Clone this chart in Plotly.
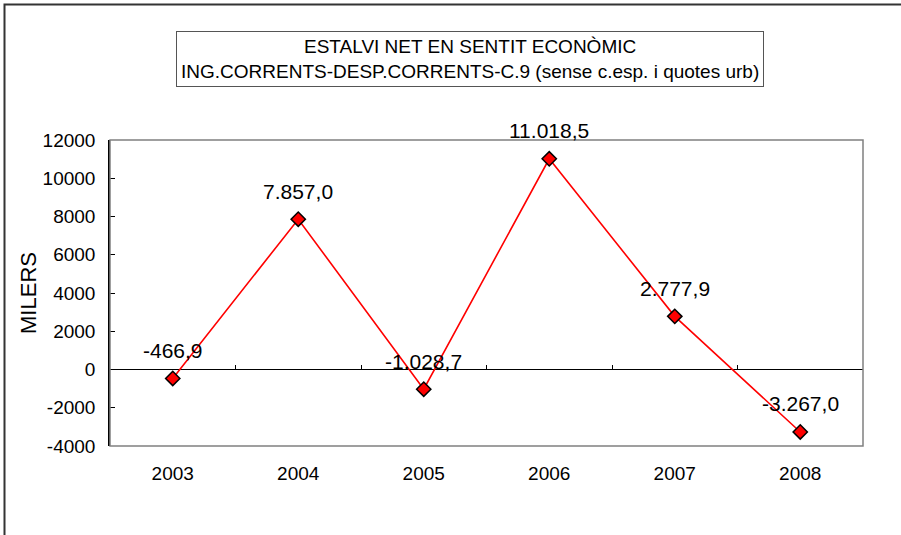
import plotly.graph_objects as go

years = ["2003", "2004", "2005", "2006", "2007", "2008"]
estalvi = [-466.9, 7857.0, -1028.7, 11018.5, 2777.9, -3267.0]
y_ticks = [-4000, -2000, 0, 2000, 4000, 6000, 8000, 10000, 12000]

title_lines = ["ESTALVI NET EN SENTIT ECONÒMIC",
               "ING.CORRENTS-DESP.CORRENTS-C.9 (sense c.esp. i quotes urb)"]


def cat_fmt(v):
    # 7857.0 -> 7.857,0
    s = f"{v:,.1f}"
    return s.replace(",", "X").replace(".", ",").replace("X", ".")


W, H = 901, 535
ml, mr, mt, mb = 110, 38, 140, 89
pw, ph = W - ml - mr, H - mt - mb

fig = go.Figure()
fig.add_trace(go.Scatter(
    x=years, y=estalvi, mode="lines+markers",
    line=dict(color="#ff0000", width=1.6),
    marker=dict(symbol="diamond", size=11, color="#ff0000",
                line=dict(color="black", width=1.5)),
    hoverinfo="x+y", showlegend=False,
))
# dummy trace so the tick-only axis on the zero line is drawn
fig.add_trace(go.Scatter(x=[], y=[], xaxis="x2", showlegend=False))

for i, v in enumerate(estalvi):
    fig.add_annotation(xref="x", yref="y", x=i, y=v, text=cat_fmt(v),
                       showarrow=False, yshift=28,
                       font=dict(size=21, color="black"))

# title box
fig.add_annotation(
    xref="paper", yref="paper", x=(470 - ml) / pw, y=(H - mb - 59) / ph,
    xanchor="center", yanchor="middle",
    text="<br>".join(title_lines), showarrow=False,
    font=dict(size=19, color="black"),
    bordercolor="#555555", borderwidth=1, borderpad=4, bgcolor="white",
)

# outer frame of the chart
fig.add_shape(type="rect", xref="paper", yref="paper",
              x0=(4.5 - ml) / pw, x1=(W + 20 - ml) / pw,
              y0=(H - mb - (H + 20)) / ph, y1=(H - mb - 4.5) / ph,
              line=dict(color="#333333", width=2), layer="below")
# plot area border
fig.add_shape(type="rect", xref="paper", yref="paper", x0=0, x1=1, y0=0, y1=1,
              line=dict(color="#808080", width=1.5))

fig.update_layout(
    width=W, height=H,
    margin=dict(l=ml, r=mr, t=mt, b=mb),
    paper_bgcolor="white", plot_bgcolor="white",
    font=dict(family="Liberation Sans, Arial, sans-serif", size=19, color="black"),
    xaxis=dict(
        type="category", range=[-0.5, 5.5], showgrid=False, showline=False,
        ticks="", ticklabelstandoff=14, tickfont=dict(size=19),
        zeroline=False, fixedrange=True,
    ),
    xaxis2=dict(
        overlaying="x", anchor="free", position=0.25, range=[-0.5, 5.5],
        tickmode="array", tickvals=[0.5, 1.5, 2.5, 3.5, 4.5],
        ticks="inside", ticklen=5, tickcolor="black", tickwidth=1,
        showticklabels=False, showline=False, showgrid=False, zeroline=False,
    ),
    yaxis=dict(
        range=[-4000, 12000], tickmode="array", tickvals=y_ticks,
        ticktext=[str(t) for t in y_ticks],
        ticks="inside", ticklen=5, tickcolor="black",
        showline=True, linecolor="black", linewidth=1.5,
        showgrid=False, zeroline=True, zerolinecolor="black", zerolinewidth=1,
        ticklabelstandoff=9, tickfont=dict(size=19),
        title=dict(text="MILERS", font=dict(size=22), standoff=0),
    ),
)

fig.write_html("out.html", config={"displayModeBar": False},
               post_script="document.body.style.margin='0px';")
